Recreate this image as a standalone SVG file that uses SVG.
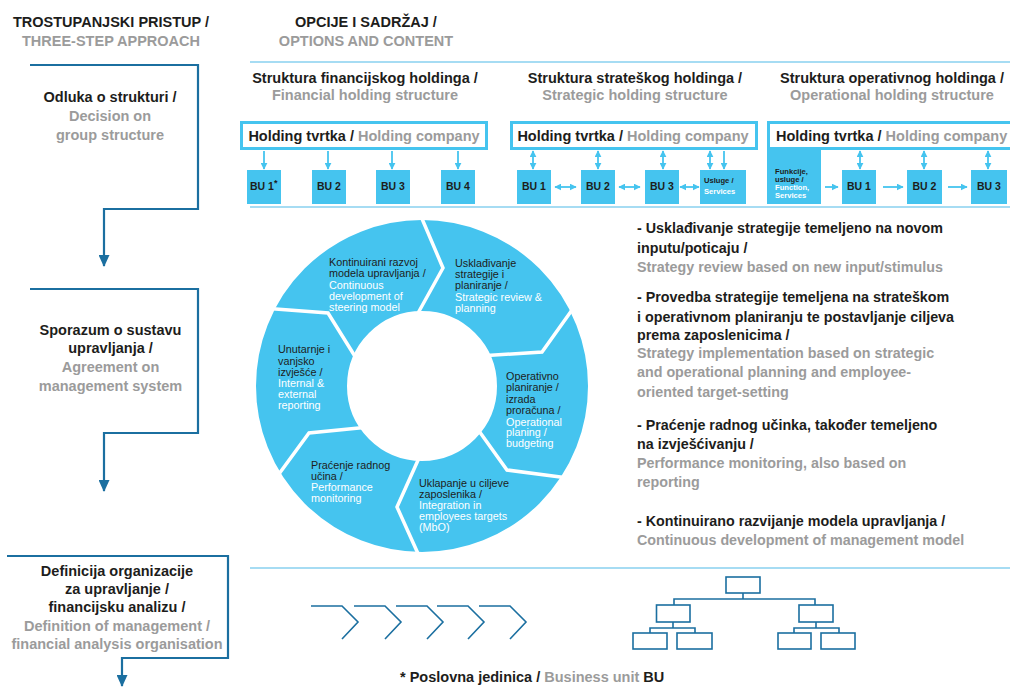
<svg xmlns="http://www.w3.org/2000/svg" width="1010" height="689" viewBox="0 0 1010 689">
  <style>
    text { font-family: "Liberation Sans", Arial, sans-serif; }
    .b { font-weight: bold; font-size: 14.5px; }
    .l { font-weight: bold; font-size: 14.3px; }
    .r { font-size: 10.8px; }
    .bu { font-weight: bold; font-size: 10.5px; fill: #1d1d1b; }
    .sm { font-weight: bold; font-size: 7.6px; }
    .c { text-anchor: middle; }
    .dk { fill: #1d1d1b; }
    .gy { fill: #9b9b9b; }
    .wh { fill: #ffffff; }
    .rule { stroke: #a6dcf3; stroke-width: 2; fill: none; }
    .step { stroke: #1b6fa0; stroke-width: 2.2; fill: none; }
    .hold { fill: #ffffff; stroke: #45c4ef; stroke-width: 3; }
    .unit { fill: #45c4ef; }
    .lk { stroke: #45c4ef; stroke-width: 1.8; fill: none; }
    .one { marker-end: url(#ah); }
    .two { marker-start: url(#ah); marker-end: url(#ah); }
    .cut { stroke: #ffffff; stroke-width: 3.5; fill: none; stroke-linejoin: miter; }
    .ico { stroke: #1b6fa0; stroke-width: 1.6; fill: none; }
    .icob { stroke: #1b6fa0; stroke-width: 1.6; fill: #ffffff; }
  </style>
  <defs>
    <marker id="ah" viewBox="0 0 10 10" refX="9" refY="5" markerUnits="userSpaceOnUse" markerWidth="7" markerHeight="7" orient="auto-start-reverse">
      <path d="M0,0 L10,5 L0,10 Z" fill="#45c4ef"/>
    </marker>
    <marker id="dh" viewBox="0 0 12 11" refX="11" refY="5.5" markerUnits="userSpaceOnUse" markerWidth="12" markerHeight="11" orient="auto">
      <path d="M0,0 L12,5.5 L0,11 Z" fill="#1b6fa0"/>
    </marker>
  </defs>

  <rect width="1010" height="689" fill="#ffffff"/>

  <!-- column headings -->
  <g id="heading-steps">
    <text class="b c dk" x="111" y="27">TROSTUPANJSKI PRISTUP /</text>
    <text class="b c gy" x="111" y="46">THREE-STEP APPROACH</text>
  </g>
  <g id="heading-options">
    <text class="b c dk" x="366" y="27">OPCIJE I SADRŽAJ /</text>
    <text class="b c gy" x="366" y="46">OPTIONS AND CONTENT</text>
  </g>

  <!-- separating rules -->
  <g id="rules">
    <line class="rule" x1="250" y1="62" x2="1010" y2="62"/>
    <line class="rule" x1="250" y1="207" x2="1010" y2="207"/>
    <line class="rule" x1="250" y1="568" x2="1010" y2="568"/>
  </g>

  <!-- step brackets with arrows -->
  <g id="connectors">
    <path class="step" d="M30,65 H198 V209 H104 V266" marker-end="url(#dh)"/>
    <path class="step" d="M30,289 H198 V433 H104 V491" marker-end="url(#dh)"/>
    <path class="step" d="M7,556 H228 V658 H122 V686" marker-end="url(#dh)"/>
  </g>

  <!-- steps -->
  <g id="step-1">
    <text class="b c dk" x="110" y="102">Odluka o strukturi /</text>
    <text class="b c gy" x="110" y="121">Decision on</text>
    <text class="b c gy" x="110" y="140">group structure</text>
  </g>
  <g id="step-2">
    <text class="b c dk" x="110.5" y="335">Sporazum o sustavu</text>
    <text class="b c dk" x="110.5" y="353">upravljanja /</text>
    <text class="b c gy" x="110.5" y="372">Agreement on</text>
    <text class="b c gy" x="110.5" y="391">management system</text>
  </g>
  <g id="step-3">
    <text class="b c dk" x="117" y="576">Definicija organizacije</text>
    <text class="b c dk" x="117" y="594">za upravljanje /</text>
    <text class="b c dk" x="117" y="612">financijsku analizu /</text>
    <text class="b c gy" x="117" y="631">Definition of management /</text>
    <text class="b c gy" x="117" y="649">financial analysis organisation</text>
  </g>

  <!-- financial holding structure -->
  <g id="financial-holding">
    <text class="b c dk" x="365" y="83">Struktura financijskog holdinga /</text>
    <text class="b c gy" x="365" y="100">Financial holding structure</text>
    <rect class="hold" x="241.5" y="122.5" width="245" height="26"/>
    <text class="b c dk" x="364" y="141">Holding tvrtka / <tspan class="gy">Holding company</tspan></text>
    <rect class="unit" x="247" y="170" width="34" height="34"/>
    <rect class="unit" x="312" y="170" width="34" height="34"/>
    <rect class="unit" x="376" y="170" width="34" height="34"/>
    <rect class="unit" x="441" y="170" width="34" height="34"/>
    <text class="bu" x="250" y="190">BU 1<tspan font-size="9" dy="-4">*</tspan></text>
    <text class="bu c" x="329" y="190">BU 2</text>
    <text class="bu c" x="393" y="190">BU 3</text>
    <text class="bu c" x="458" y="190">BU 4</text>
  </g>

  <!-- strategic holding structure -->
  <g id="strategic-holding">
    <text class="b c dk" x="635" y="83">Struktura strateškog holdinga /</text>
    <text class="b c gy" x="635" y="100">Strategic holding structure</text>
    <rect class="hold" x="511.5" y="122.5" width="245" height="26"/>
    <text class="b c dk" x="633" y="141">Holding tvrtka / <tspan class="gy">Holding company</tspan></text>
    <rect class="unit" x="517" y="170" width="34" height="34"/>
    <rect class="unit" x="581" y="170" width="34" height="34"/>
    <rect class="unit" x="645" y="170" width="34" height="34"/>
    <rect class="unit" x="700" y="170" width="46" height="34"/>
    <text class="bu c" x="534" y="190">BU 1</text>
    <text class="bu c" x="598" y="190">BU 2</text>
    <text class="bu c" x="662" y="190">BU 3</text>
    <text class="sm dk" x="704" y="183">Usluge /</text>
    <text class="sm wh" x="704" y="194">Services</text>
  </g>

  <!-- operational holding structure -->
  <g id="operational-holding">
    <text class="b c dk" x="892" y="83">Struktura operativnog holdinga /</text>
    <text class="b c gy" x="892" y="100">Operational holding structure</text>
    <rect class="unit" x="767" y="148" width="54" height="56"/>
    <rect class="hold" x="768.5" y="122.5" width="260" height="26"/>
    <text class="b dk" x="776" y="141">Holding tvrtka / <tspan class="gy">Holding company</tspan></text>
    <text class="sm dk" x="775" y="174">Funkcije,</text>
    <text class="sm dk" x="775" y="182">usluge /</text>
    <text class="sm wh" x="775" y="190">Function,</text>
    <text class="sm wh" x="775" y="198">Services</text>
    <rect class="unit" x="842" y="170" width="34" height="34"/>
    <rect class="unit" x="907" y="170" width="35" height="34"/>
    <rect class="unit" x="971" y="170" width="36" height="34"/>
    <text class="bu c" x="859" y="190">BU 1</text>
    <text class="bu c" x="924.5" y="190">BU 2</text>
    <text class="bu c" x="989" y="190">BU 3</text>
  </g>

  <!-- links between holding and units -->
  <g id="unit-links">
    <line class="lk one" x1="264" y1="151" x2="264" y2="169"/>
    <line class="lk one" x1="328" y1="151" x2="328" y2="169"/>
    <line class="lk one" x1="392" y1="151" x2="392" y2="169"/>
    <line class="lk one" x1="458" y1="151" x2="458" y2="169"/>

    <line class="lk two" x1="533" y1="151" x2="533" y2="169"/>
    <line class="lk two" x1="598" y1="151" x2="598" y2="169"/>
    <line class="lk two" x1="663" y1="151" x2="663" y2="169"/>
    <line class="lk two" x1="710" y1="151" x2="710" y2="169"/>
    <line class="lk one" x1="724" y1="151" x2="724" y2="169"/>
    <line class="lk two" x1="555" y1="187" x2="576" y2="187"/>
    <line class="lk two" x1="619" y1="187" x2="640" y2="187"/>
    <line class="lk two" x1="680" y1="187" x2="699" y2="187"/>

    <line class="lk two" x1="860" y1="151" x2="860" y2="169"/>
    <line class="lk two" x1="924" y1="151" x2="924" y2="169"/>
    <line class="lk two" x1="988" y1="151" x2="988" y2="169"/>
    <line class="lk one" x1="825" y1="187" x2="838" y2="187"/>
    <line class="lk one" x1="883" y1="187" x2="903" y2="187"/>
    <line class="lk one" x1="948" y1="187" x2="967" y2="187"/>
  </g>

  <!-- steering cycle ring -->
  <g id="cycle">
    <circle cx="422" cy="386" r="120.5" fill="none" stroke="#45c4ef" stroke-width="91"/>
    <polyline class="cut" points="420,214 443,268 417.5,314"/>
    <polyline class="cut" points="577,303 542,352 487,355.5"/>
    <polyline class="cut" points="479,431 507,470 568,478"/>
    <polyline class="cut" points="419,458 397,507 420,558"/>
    <polyline class="cut" points="276,478 309,433 364,427.5"/>
    <polyline class="cut" points="269,308.5 328,313 356,358"/>

    <g id="seg-steering">
      <text class="r dk" x="329" y="266">Kontinuirani razvoj</text>
      <text class="r dk" x="329" y="277">modela upravljanja /</text>
      <text class="r wh" x="329" y="288.5">Continuous</text>
      <text class="r wh" x="329" y="299.5">development of</text>
      <text class="r wh" x="329" y="311">steering model</text>
    </g>
    <g id="seg-strategy">
      <text class="r dk" x="455" y="267">Usklađivanje</text>
      <text class="r dk" x="455" y="278">strategije i</text>
      <text class="r dk" x="455" y="289">planiranje /</text>
      <text class="r wh" x="455" y="301">Strategic review &amp;</text>
      <text class="r wh" x="455" y="312">planning</text>
    </g>
    <g id="seg-operational">
      <text class="r dk" x="506" y="380">Operativno</text>
      <text class="r dk" x="506" y="391">planiranje /</text>
      <text class="r dk" x="506" y="403">izrada</text>
      <text class="r dk" x="506" y="414">proračuna /</text>
      <text class="r wh" x="506" y="426">Operational</text>
      <text class="r wh" x="506" y="436">planing /</text>
      <text class="r wh" x="506" y="447">budgeting</text>
    </g>
    <g id="seg-targets">
      <text class="r dk" x="419" y="487">Uklapanje u ciljeve</text>
      <text class="r dk" x="419" y="498">zaposlenika /</text>
      <text class="r wh" x="419" y="509">Integration in</text>
      <text class="r wh" x="419" y="520">employees targets</text>
      <text class="r wh" x="419" y="531">(MbO)</text>
    </g>
    <g id="seg-performance">
      <text class="r dk" x="311" y="469">Praćenje radnog</text>
      <text class="r dk" x="311" y="480">učina /</text>
      <text class="r wh" x="311" y="491">Performance</text>
      <text class="r wh" x="311" y="502">monitoring</text>
    </g>
    <g id="seg-reporting">
      <text class="r dk" x="278" y="353">Unutarnje i</text>
      <text class="r dk" x="278" y="365">vanjsko</text>
      <text class="r dk" x="278" y="376">izvješće /</text>
      <text class="r wh" x="278" y="387">Internal &amp;</text>
      <text class="r wh" x="278" y="398">external</text>
      <text class="r wh" x="278" y="409">reporting</text>
    </g>
  </g>

  <!-- bullet list -->
  <g id="notes">
    <text class="l dk" x="637" y="233">- Usklađivanje strategije temeljeno na novom</text>
    <text class="l dk" x="637" y="253">inputu/poticaju /</text>
    <text class="l gy" x="637" y="272">Strategy review based on new input/stimulus</text>
    <text class="l dk" x="637" y="302">- Provedba strategije temeljena na strateškom</text>
    <text class="l dk" x="637" y="322">i operativnom planiranju te postavljanje ciljeva</text>
    <text class="l dk" x="637" y="340">prema zaposlenicima /</text>
    <text class="l gy" x="637" y="358">Strategy implementation based on strategic</text>
    <text class="l gy" x="637" y="377">and operational planning and employee-</text>
    <text class="l gy" x="637" y="397">oriented target-setting</text>
    <text class="l dk" x="637" y="430">- Praćenje radnog učinka, također temeljeno</text>
    <text class="l dk" x="637" y="449">na izvješćivanju /</text>
    <text class="l gy" x="637" y="468">Performance monitoring, also based on</text>
    <text class="l gy" x="637" y="487">reporting</text>
    <text class="l dk" x="637" y="526">- Kontinuirano razvijanje modela upravljanja /</text>
    <text class="l gy" x="637" y="545">Continuous development of management model</text>
  </g>

  <!-- process chevrons -->
  <g id="process-icon">
    <polyline class="ico" points="311,606 342,606 358,622 342,639"/>
    <polyline class="ico" points="354,606 385,606 401,622 385,639"/>
    <polyline class="ico" points="396,606 427,606 443,622 427,639"/>
    <polyline class="ico" points="437,606 468,606 484,622 468,639"/>
    <polyline class="ico" points="479,606 510,606 526,622 510,639"/>
  </g>

  <!-- organisation chart icon -->
  <g id="org-icon">
    <path class="ico" d="M743,593 V599 M674,605 V599 H815 V605 M673,622 V628 M650,633 V628 H695 V633 M816,622 V628 M794,633 V628 H839 V633"/>
    <rect class="icob" x="726" y="577" width="34" height="16"/>
    <rect class="icob" x="656.5" y="605" width="33.5" height="17"/>
    <rect class="icob" x="799" y="605" width="34" height="17"/>
    <rect class="icob" x="633" y="633" width="34" height="16"/>
    <rect class="icob" x="677" y="633" width="35" height="16"/>
    <rect class="icob" x="778" y="633" width="33" height="16"/>
    <rect class="icob" x="821" y="633" width="34" height="16"/>
  </g>

  <!-- footnote -->
  <g id="footnote">
    <text class="b dk" x="400" y="682">* Poslovna jedinica / <tspan class="gy">Business unit</tspan> BU</text>
  </g>
</svg>
